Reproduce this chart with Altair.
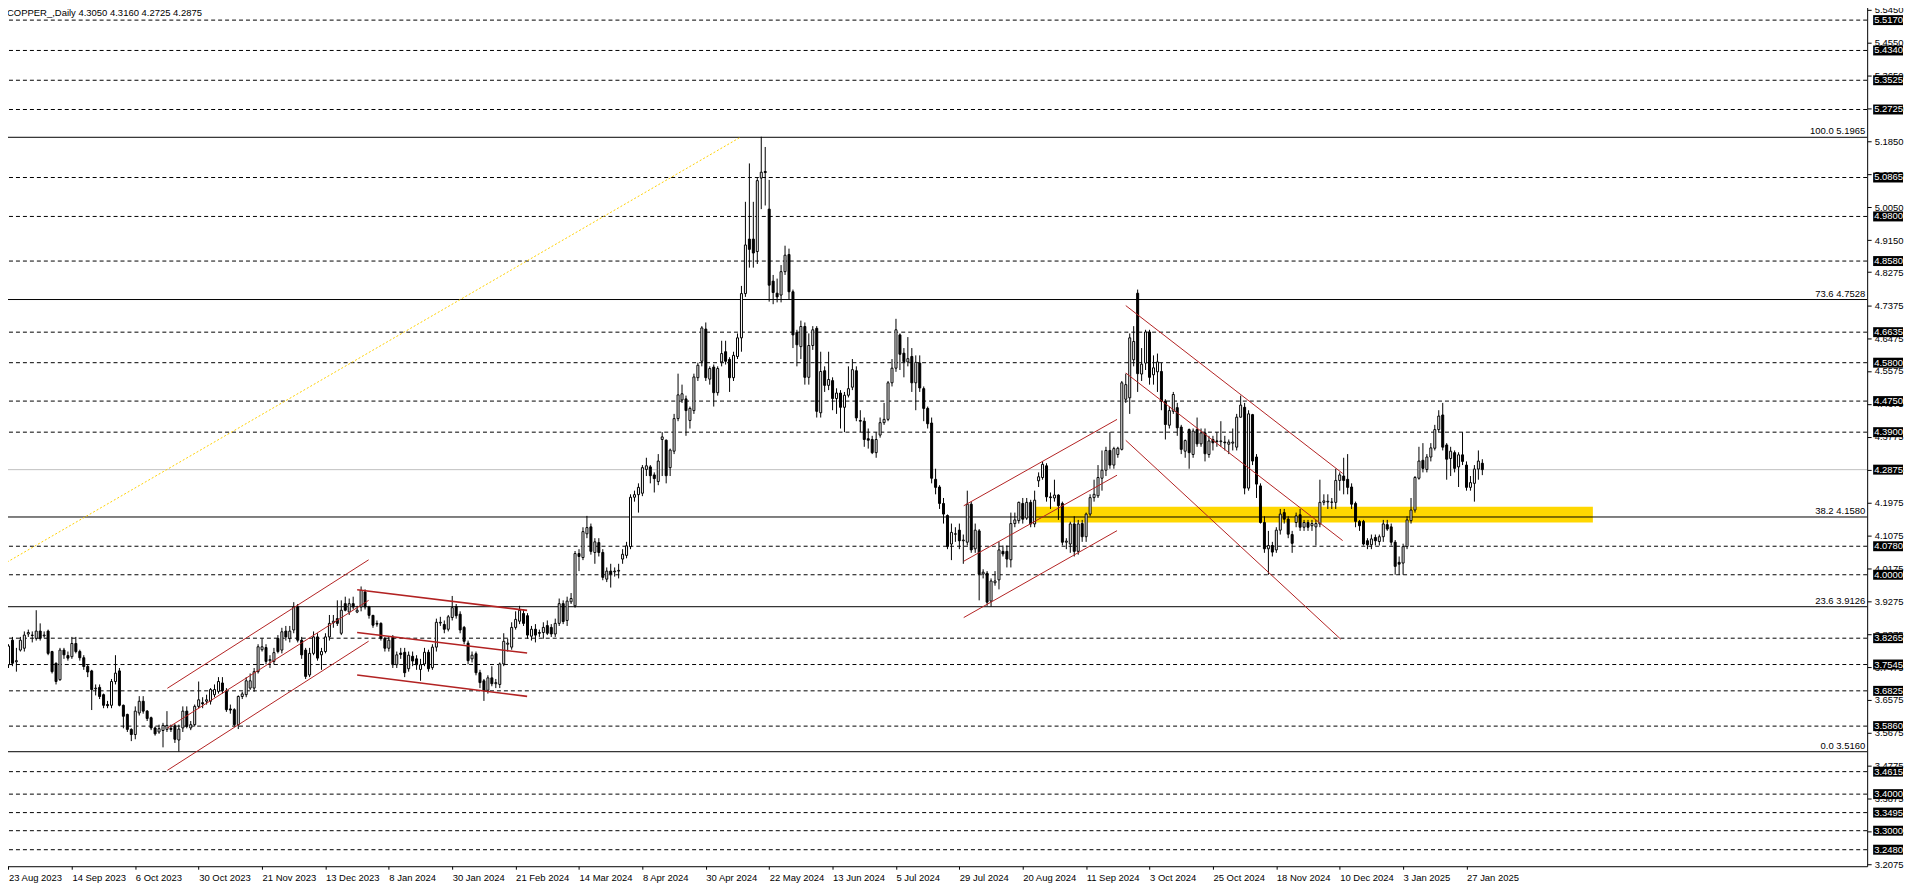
import altair as alt
import pandas as pd

# ---------------- data ----------------
opens = [3.754,3.821,3.762,3.794,3.799,3.838,3.835,3.826,3.846,3.833,3.846,3.790,3.758,3.713,3.794,3.779,3.776,3.812,3.790,3.773,
3.749,3.737,3.688,3.692,3.672,3.645,3.643,3.708,3.737,3.643,3.618,3.577,3.563,3.622,3.654,3.627,3.609,3.581,3.570,3.574,
3.577,3.580,3.587,3.548,3.581,3.627,3.581,3.590,3.640,3.650,3.654,3.654,3.672,3.681,3.704,3.681,3.633,3.631,3.590,3.667,
3.672,3.690,3.690,3.735,3.795,3.801,3.765,3.763,3.826,3.794,3.846,3.826,3.849,3.912,3.821,3.794,3.726,3.785,3.830,3.781,
3.790,3.830,3.869,3.880,3.840,3.921,3.898,3.921,3.898,3.912,3.953,3.912,3.889,3.867,3.867,3.826,3.799,3.829,3.754,3.786,
3.788,3.743,3.777,3.770,3.741,3.756,3.788,3.746,3.802,3.868,3.864,3.851,3.883,3.913,3.892,3.856,3.813,3.770,3.784,3.732,
3.710,3.684,3.718,3.702,3.700,3.756,3.810,3.802,3.856,3.873,3.894,3.888,3.832,3.851,3.842,3.842,3.861,3.856,3.838,3.867,
3.921,3.875,3.926,3.915,4.058,4.047,4.112,4.131,4.061,4.088,4.061,3.988,4.010,4.008,4.010,4.043,4.053,4.077,4.212,4.219,
4.223,4.288,4.295,4.273,4.255,4.370,4.368,4.293,4.338,4.427,4.478,4.481,4.422,4.449,4.539,4.584,4.672,4.535,4.568,4.498,
4.582,4.610,4.589,4.539,4.597,4.648,4.769,4.918,4.918,4.884,5.085,5.103,5.000,4.803,4.770,4.765,4.829,4.876,4.774,4.663,
4.624,4.679,4.540,4.627,4.674,4.443,4.558,4.518,4.531,4.482,4.497,4.458,4.491,4.513,4.558,4.422,4.420,4.372,4.370,4.334,
4.382,4.416,4.425,4.525,4.565,4.656,4.606,4.582,4.597,4.525,4.579,4.509,4.455,4.415,4.261,4.240,4.195,4.162,4.084,4.112,
4.122,4.093,4.089,4.193,4.071,4.120,4.002,4.004,3.928,3.978,3.986,4.064,4.064,4.041,4.140,4.148,4.195,4.155,4.198,4.139,
4.257,4.266,4.298,4.213,4.210,4.218,4.195,4.089,4.084,4.139,4.064,4.140,4.104,4.166,4.211,4.216,4.264,4.286,4.340,4.300,
4.329,4.343,4.480,4.484,4.588,4.770,4.549,4.579,4.664,4.547,4.555,4.556,4.475,4.409,4.447,4.457,4.404,4.338,4.397,4.329,
4.397,4.358,4.388,4.329,4.370,4.366,4.364,4.363,4.357,4.360,4.349,4.431,4.458,4.237,4.438,4.322,4.243,4.143,4.071,4.080,
4.068,4.122,4.170,4.152,4.110,4.143,4.164,4.130,4.143,4.134,4.131,4.139,4.198,4.199,4.198,4.198,4.258,4.270,4.261,4.240,
4.195,4.146,4.146,4.093,4.082,4.102,4.091,4.104,4.137,4.131,4.089,4.034,4.032,4.077,4.148,4.177,4.264,4.313,4.288,4.322,
4.346,4.397,4.437,4.355,4.318,4.334,4.295,4.328,4.300,4.239,4.250,4.289,4.305]
highs = [3.810,3.830,3.800,3.830,3.845,3.850,3.845,3.903,3.867,3.845,3.850,3.792,3.760,3.800,3.800,3.790,3.830,3.830,3.795,3.780,
3.755,3.740,3.700,3.700,3.675,3.655,3.715,3.780,3.745,3.645,3.620,3.580,3.640,3.668,3.668,3.630,3.612,3.585,3.590,3.595,
3.627,3.590,3.592,3.590,3.640,3.640,3.600,3.645,3.708,3.665,3.672,3.690,3.700,3.720,3.720,3.690,3.645,3.635,3.670,3.680,
3.720,3.730,3.745,3.810,3.826,3.810,3.780,3.800,3.835,3.855,3.860,3.860,3.925,3.920,3.830,3.800,3.800,3.845,3.840,3.800,
3.840,3.890,3.890,3.930,3.930,3.940,3.935,3.940,3.915,3.968,3.960,3.915,3.890,3.875,3.870,3.830,3.830,3.835,3.790,3.800,
3.800,3.790,3.790,3.780,3.770,3.800,3.795,3.810,3.880,3.885,3.875,3.890,3.942,3.920,3.900,3.860,3.820,3.790,3.790,3.740,
3.715,3.725,3.750,3.715,3.760,3.840,3.825,3.870,3.900,3.915,3.905,3.895,3.860,3.865,3.850,3.870,3.875,3.865,3.880,3.935,
3.930,3.940,3.950,4.065,4.070,4.130,4.161,4.140,4.100,4.100,4.070,4.020,4.030,4.020,4.030,4.070,4.090,4.220,4.230,4.250,
4.300,4.320,4.300,4.280,4.330,4.390,4.370,4.345,4.440,4.550,4.520,4.490,4.460,4.550,4.580,4.680,4.690,4.570,4.575,4.570,
4.640,4.640,4.595,4.610,4.660,4.790,5.020,5.125,5.020,5.085,5.198,5.170,5.080,4.820,4.810,4.847,4.900,4.892,4.780,4.670,
4.695,4.690,4.660,4.680,4.680,4.610,4.570,4.610,4.540,4.510,4.505,4.500,4.570,4.590,4.570,4.450,4.430,4.400,4.380,4.390,
4.430,4.470,4.530,4.590,4.700,4.660,4.620,4.650,4.620,4.600,4.600,4.515,4.460,4.430,4.290,4.245,4.210,4.165,4.140,4.130,
4.140,4.110,4.230,4.200,4.140,4.125,4.015,4.010,3.990,4.010,4.090,4.080,4.080,4.170,4.170,4.200,4.210,4.210,4.205,4.230,
4.280,4.310,4.305,4.225,4.260,4.220,4.200,4.100,4.145,4.160,4.150,4.150,4.170,4.220,4.260,4.300,4.340,4.350,4.390,4.350,
4.350,4.530,4.550,4.660,4.680,4.780,4.620,4.670,4.670,4.600,4.605,4.580,4.480,4.460,4.500,4.470,4.410,4.370,4.400,4.400,
4.430,4.400,4.400,4.380,4.380,4.390,4.420,4.380,4.370,4.400,4.440,4.490,4.470,4.450,4.440,4.330,4.250,4.160,4.120,4.090,
4.130,4.180,4.180,4.160,4.120,4.170,4.180,4.150,4.150,4.150,4.150,4.260,4.220,4.220,4.210,4.290,4.280,4.320,4.330,4.250,
4.200,4.150,4.150,4.100,4.110,4.110,4.110,4.150,4.150,4.140,4.095,4.050,4.085,4.160,4.210,4.270,4.350,4.360,4.330,4.360,
4.410,4.450,4.470,4.360,4.350,4.340,4.335,4.390,4.310,4.270,4.300,4.340,4.316]
lows = [3.745,3.750,3.735,3.790,3.790,3.830,3.815,3.820,3.820,3.828,3.780,3.730,3.700,3.710,3.770,3.765,3.770,3.785,3.765,3.740,
3.720,3.630,3.670,3.660,3.635,3.635,3.635,3.700,3.640,3.580,3.570,3.545,3.550,3.615,3.620,3.600,3.575,3.560,3.565,3.528,
3.570,3.570,3.540,3.516,3.570,3.580,3.575,3.585,3.635,3.635,3.645,3.645,3.665,3.675,3.675,3.625,3.620,3.585,3.578,3.660,
3.665,3.685,3.680,3.730,3.790,3.755,3.745,3.755,3.785,3.785,3.820,3.815,3.840,3.815,3.770,3.715,3.720,3.780,3.765,3.740,
3.785,3.820,3.855,3.860,3.835,3.900,3.890,3.905,3.895,3.900,3.905,3.880,3.855,3.858,3.820,3.790,3.790,3.745,3.745,3.770,
3.720,3.735,3.750,3.740,3.710,3.750,3.735,3.740,3.790,3.860,3.840,3.845,3.875,3.880,3.840,3.810,3.755,3.760,3.725,3.690,
3.655,3.675,3.695,3.690,3.690,3.750,3.790,3.795,3.850,3.865,3.860,3.825,3.820,3.815,3.830,3.825,3.835,3.830,3.830,3.860,
3.865,3.860,3.920,3.910,4.010,4.040,4.100,4.055,4.030,4.050,3.985,3.980,3.965,3.995,3.990,4.030,4.045,4.070,4.200,4.170,
4.215,4.270,4.250,4.225,4.245,4.270,4.250,4.270,4.330,4.420,4.470,4.380,4.400,4.440,4.530,4.570,4.530,4.520,4.460,4.490,
4.570,4.575,4.500,4.530,4.590,4.610,4.760,4.840,4.840,4.850,5.000,5.010,4.747,4.740,4.745,4.745,4.820,4.752,4.620,4.570,
4.590,4.520,4.520,4.615,4.430,4.430,4.500,4.505,4.450,4.440,4.400,4.390,4.485,4.505,4.420,4.390,4.350,4.345,4.330,4.320,
4.375,4.410,4.420,4.515,4.555,4.560,4.540,4.570,4.500,4.450,4.500,4.420,4.400,4.250,4.220,4.180,4.140,4.070,4.040,4.090,
4.070,4.030,4.080,4.060,4.060,3.930,3.990,3.915,3.913,3.970,3.960,4.050,4.020,4.020,4.130,4.140,4.140,4.150,4.130,4.130,
4.240,4.260,4.200,4.180,4.200,4.150,4.080,4.070,4.060,4.050,4.055,4.090,4.090,4.160,4.200,4.210,4.230,4.270,4.290,4.290,
4.320,4.340,4.470,4.440,4.570,4.500,4.530,4.560,4.520,4.520,4.500,4.450,4.370,4.400,4.440,4.380,4.330,4.320,4.290,4.320,
4.350,4.350,4.310,4.320,4.340,4.350,4.350,4.340,4.330,4.340,4.340,4.430,4.220,4.230,4.300,4.210,4.140,4.060,4.000,4.050,
4.060,4.110,4.140,4.100,4.060,4.130,4.120,4.120,4.120,4.120,4.080,4.130,4.190,4.180,4.180,4.180,4.230,4.220,4.220,4.180,
4.130,4.120,4.080,4.070,4.070,4.080,4.080,4.090,4.120,4.080,4.000,4.000,4.000,4.070,4.140,4.170,4.260,4.280,4.280,4.310,
4.340,4.390,4.340,4.260,4.270,4.280,4.240,4.300,4.230,4.230,4.200,4.260,4.2725]
closes = [3.805,3.758,3.765,3.821,3.835,3.842,3.834,3.846,3.826,3.835,3.785,3.735,3.708,3.794,3.781,3.772,3.812,3.790,3.773,3.749,
3.734,3.686,3.690,3.667,3.643,3.642,3.708,3.731,3.643,3.613,3.577,3.563,3.627,3.654,3.627,3.607,3.581,3.565,3.579,3.588,
3.588,3.577,3.550,3.578,3.627,3.585,3.590,3.640,3.658,3.647,3.658,3.686,3.686,3.708,3.683,3.631,3.630,3.590,3.667,3.674,
3.710,3.710,3.735,3.803,3.803,3.763,3.768,3.787,3.790,3.844,3.830,3.846,3.912,3.821,3.781,3.722,3.785,3.830,3.772,3.790,
3.830,3.867,3.873,3.867,3.903,3.903,3.921,3.912,3.903,3.957,3.912,3.889,3.862,3.865,3.826,3.799,3.821,3.754,3.781,3.782,
3.732,3.780,3.764,3.754,3.754,3.788,3.743,3.802,3.870,3.870,3.851,3.885,3.910,3.888,3.849,3.818,3.765,3.780,3.732,3.705,
3.684,3.718,3.702,3.705,3.756,3.818,3.813,3.856,3.878,3.903,3.867,3.835,3.851,3.835,3.840,3.856,3.840,3.838,3.867,3.921,
3.872,3.928,3.935,4.058,4.050,4.118,4.129,4.064,4.090,4.061,3.993,4.010,4.002,4.010,4.012,4.056,4.079,4.212,4.219,4.239,
4.293,4.298,4.271,4.263,4.311,4.377,4.271,4.341,4.427,4.492,4.495,4.449,4.455,4.541,4.573,4.675,4.539,4.564,4.498,4.564,
4.605,4.584,4.539,4.600,4.648,4.769,4.902,4.890,4.880,5.078,5.101,5.100,4.792,4.772,4.760,4.829,4.874,4.774,4.656,4.629,
4.679,4.540,4.627,4.670,4.447,4.556,4.518,4.534,4.482,4.497,4.458,4.491,4.509,4.561,4.429,4.420,4.370,4.368,4.334,4.370,
4.416,4.425,4.525,4.565,4.670,4.603,4.583,4.591,4.525,4.581,4.511,4.455,4.413,4.264,4.239,4.195,4.166,4.077,4.116,4.111,
4.093,4.095,4.193,4.068,4.122,4.002,4.007,3.925,3.983,3.983,4.068,4.057,4.043,4.140,4.150,4.198,4.152,4.198,4.139,4.204,
4.268,4.302,4.213,4.211,4.218,4.189,4.089,4.092,4.139,4.064,4.139,4.104,4.166,4.211,4.220,4.266,4.286,4.340,4.300,4.345,
4.346,4.525,4.520,4.648,4.638,4.550,4.576,4.664,4.540,4.566,4.582,4.475,4.411,4.449,4.493,4.402,4.343,4.367,4.334,4.393,
4.358,4.388,4.331,4.366,4.361,4.364,4.366,4.361,4.363,4.363,4.431,4.464,4.237,4.440,4.311,4.248,4.143,4.071,4.080,4.062,
4.122,4.166,4.152,4.111,4.086,4.161,4.130,4.143,4.130,4.140,4.140,4.198,4.202,4.201,4.199,4.258,4.273,4.258,4.239,4.193,
4.146,4.134,4.084,4.082,4.098,4.093,4.104,4.139,4.125,4.089,4.023,4.029,4.077,4.150,4.177,4.266,4.311,4.291,4.322,4.347,
4.397,4.434,4.349,4.316,4.338,4.291,4.328,4.310,4.239,4.252,4.289,4.311,4.2875]

date_labels = ["23 Aug 2023", "14 Sep 2023", "6 Oct 2023", "30 Oct 2023", "21 Nov 2023", "13 Dec 2023",
               "8 Jan 2024", "30 Jan 2024", "21 Feb 2024", "14 Mar 2024", "8 Apr 2024", "30 Apr 2024",
               "22 May 2024", "13 Jun 2024", "5 Jul 2024", "29 Jul 2024", "20 Aug 2024", "11 Sep 2024",
               "3 Oct 2024", "25 Oct 2024", "18 Nov 2024", "10 Dec 2024", "3 Jan 2025", "27 Jan 2025"]
bars_per_label = 16

price_ticks = [3.2075, 3.2975, 3.3875, 3.4775, 3.5675, 3.6575, 3.7475, 3.8375, 3.9275, 4.0175, 4.1075,
               4.1975, 4.2875, 4.3775, 4.4675, 4.5575, 4.6475, 4.7375, 4.8275, 4.9150, 5.0050, 5.0950,
               5.1850, 5.2750, 5.3650, 5.4550, 5.5450]

dashed_levels = [5.5170, 5.4340, 5.3525, 5.2725, 5.0865, 4.9800, 4.8580, 4.6635, 4.5800, 4.4750, 4.3900,
                 4.0780, 4.0000, 3.8265, 3.7545, 3.6825, 3.5860, 3.4615, 3.4000, 3.3495, 3.3000, 3.2480]
fib_ratios = ["0.0", "23.6", "38.2", "73.6", "100.0"]
fib_prices = [3.5160, 3.9126, 4.1580, 4.7528, 5.1965]
last_price = 4.2875
title_text = "COPPER_,Daily  4.3050 4.3160 4.2725 4.2875"

# trend lines: start bar, start price, end bar, end price
red_x1 = [40.1, 40.1, 40.1, 88.0, 88.0, 88.0, 241.1, 241.1, 241.1, 282.0, 282.0, 282.0]
red_y1 = [3.6895, 3.5806, 3.4651, 3.9591, 3.8420, 3.7257, 4.1887, 4.0370, 3.8829, 4.7362, 4.5518, 4.3677]
red_x2 = [90.9, 90.9, 90.9, 130.9, 130.9, 130.9, 279.8, 279.8, 279.8, 336.75, 336.75, 336.25]
red_y2 = [4.0408, 3.9300, 3.8183, 3.9025, 3.7859, 3.6674, 4.4249, 4.2723, 4.1206, 4.2770, 4.0934, 3.8238]
red_w = [1, 1, 1, 1.6, 1.6, 1.6, 1, 1, 1, 1, 1, 1]

fib_base = [-0.375, 4.0344, 184.7, 5.1965]      # yellow dotted diagonal
zone = [259.0, 4.1432, 399.9, 4.1860]           # yellow rectangle

# ---------------- chart ----------------
W, H = 1873, 864
FONT = "Liberation Sans"

n = len(closes)
df = pd.DataFrame({"i": list(range(n)), "o": opens, "h": highs, "l": lows, "c": closes})
df["h"] = df[["h", "o", "c"]].max(axis=1)
df["l"] = df[["l", "o", "c"]].min(axis=1)
df["dir"] = ["up" if c >= o else "down" for o, c in zip(df["o"], df["c"])]

xs = alt.Scale(domain=[-0.375, 467.875], nice=False, zero=False)
ys = alt.Scale(domain=[3.2028, 5.556], nice=False, zero=False)

label_expr = "[" + ",".join("'%s'" % d for d in date_labels) + "][round(datum.value / %d)]" % bars_per_label
x_axis = alt.Axis(values=[k * bars_per_label for k in range(len(date_labels))], labelExpr=label_expr,
                  orient="bottom", grid=False, domainColor="black", tickColor="black", tickSize=3,
                  labelAlign="left", labelBaseline="top", labelPadding=3, labelFont=FONT, labelFontSize=9.5,
                  labelColor="black", labelOverlap=False, labelFlush=False, title=None)
y_axis = alt.Axis(values=price_ticks, format=".4f", orient="right", grid=False, domainColor="black",
                  tickColor="black", tickSize=4, labelPadding=3, labelFont=FONT, labelFontSize=9.5,
                  labelColor="black", labelOverlap=False, labelFlush=False, title=None)


def X(f):
    return alt.X(f, type="quantitative", scale=xs, axis=x_axis, title=None)


def Y(f):
    return alt.Y(f, type="quantitative", scale=ys, axis=y_axis, title=None)


zone_df = pd.DataFrame({"x1": [zone[0]], "y1": [zone[1]], "x2": [zone[2]], "y2": [zone[3]]})
zone_layer = alt.Chart(zone_df).mark_rect(color="#FFD700", clip=True).encode(
    x=X("x1"), x2="x2", y=Y("y1"), y2="y2")

dash_df = pd.DataFrame({"p": dashed_levels})
dash_layer = alt.Chart(dash_df).mark_rule(color="black", strokeDash=[4, 3], strokeWidth=1, clip=True).encode(y=Y("p"))

fib_df = pd.DataFrame({"p": fib_prices, "lab": [r + " " + "%.4f" % p for r, p in zip(fib_ratios, fib_prices)]})
fib_layer = alt.Chart(fib_df).mark_rule(color="black", strokeWidth=1, clip=True).encode(y=Y("p"))
fib_text = alt.Chart(fib_df).mark_text(align="right", baseline="bottom", dy=-1, font=FONT, fontSize=9.5,
                                       color="black").encode(x=alt.value(W - 2), y=Y("p"), text="lab:N")

last_df = pd.DataFrame({"p": [last_price]})
last_layer = alt.Chart(last_df).mark_rule(color="#c0c0c0", strokeWidth=1, clip=True).encode(y=Y("p"))

base_df = pd.DataFrame({"x1": [fib_base[0]], "y1": [fib_base[1]], "x2": [fib_base[2]], "y2": [fib_base[3]]})
base_layer = alt.Chart(base_df).mark_rule(color="#FFD000", strokeDash=[2, 2], strokeWidth=1, clip=True).encode(
    x=X("x1"), x2="x2", y=Y("y1"), y2="y2")

wick_layer = alt.Chart(df).mark_rule(color="black", strokeWidth=1, clip=True).encode(x=X("i"), y=Y("l"), y2="h")
body_layer = alt.Chart(df).mark_bar(width=2, stroke="black", strokeWidth=1, clip=True).encode(
    x=X("i"), y=Y("o"), y2="c",
    fill=alt.Fill("dir:N", scale=alt.Scale(domain=["up", "down"], range=["white", "black"]), legend=None))

red_df = pd.DataFrame({"x1": red_x1, "y1": red_y1, "x2": red_x2, "y2": red_y2, "w": red_w})
red_layer = alt.Chart(red_df).mark_rule(color="#b22222", clip=True).encode(
    x=X("x1"), x2="x2", y=Y("y1"), y2="y2",
    strokeWidth=alt.StrokeWidth("w:Q", scale=None, legend=None))

left_border = alt.Chart(last_df).mark_rule(color="black", strokeWidth=1).encode(
    x=alt.value(0.5), y=alt.value(0), y2=alt.value(H))

box_df = pd.DataFrame({"p": dashed_levels + [last_price]})
box_df["lab"] = ["%.4f" % p for p in box_df["p"]]
box_layer = alt.Chart(box_df).mark_rule(color="black", strokeWidth=10, strokeCap="butt").encode(
    x=alt.value(W + 6), x2=alt.value(W + 36), y=Y("p"))
box_text = alt.Chart(box_df).mark_text(align="left", baseline="middle", color="white", font=FONT,
                                       fontSize=9.5).encode(x=alt.value(W + 7), y=Y("p"), text="lab:N")

title_layer = alt.Chart(last_df).mark_text(align="left", baseline="top", font=FONT, fontSize=9.5,
                                           color="black", text=title_text).encode(
    x=alt.value(5), y=alt.value(2))

chart = alt.layer(
    zone_layer, dash_layer, fib_layer, last_layer, base_layer,
    wick_layer, body_layer, red_layer, fib_text, left_border, box_layer, box_text, title_layer
).properties(
    width=W, height=H, padding={"left": -6, "top": -5, "right": 0, "bottom": 0}, background="white"
).configure_view(stroke=None)

chart.save("out.html", embed_options={"renderer": "svg", "actions": False})
